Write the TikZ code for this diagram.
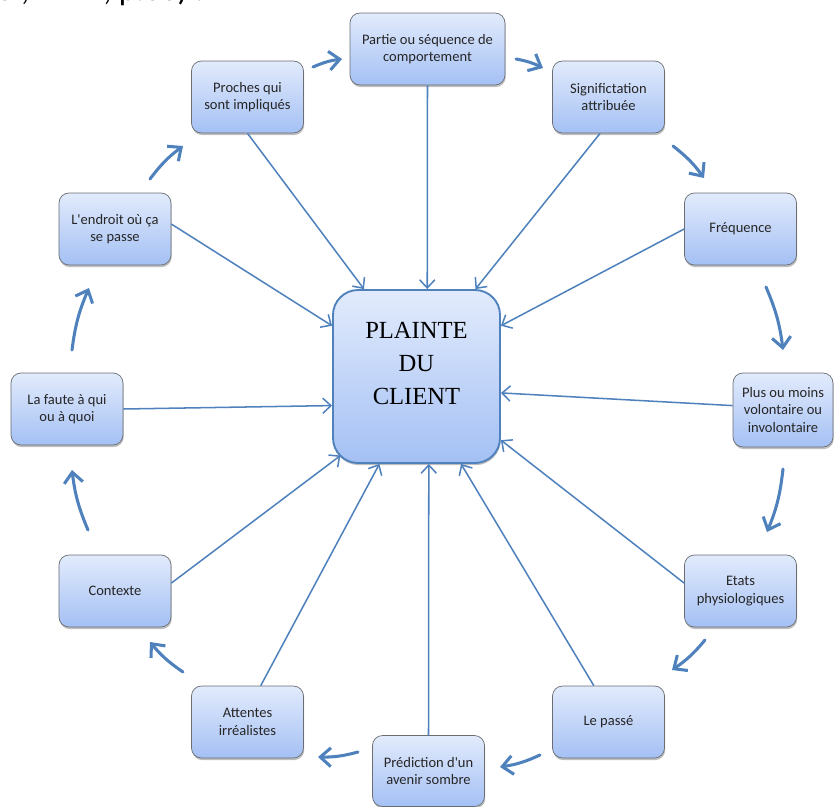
\documentclass[tikz,border=0pt]{standalone}
\usepackage{fontspec}
\setmainfont{Liberation Serif}
\newfontfamily\boxfont{Carlito}
\usetikzlibrary{arrows.meta, shadows}
\definecolor{arrowblue}{HTML}{4F81BD}
\definecolor{boxtop}{HTML}{E2EBFC}
\definecolor{boxbot}{HTML}{A4C0F4}
\definecolor{boxline}{HTML}{6A6E73}
\definecolor{textgrey}{HTML}{262626}

\begin{document}
\begin{tikzpicture}[
    x=0.03cm, y=-0.03cm,
    box/.style={rectangle, rounded corners=0.3cm, draw=boxline, line width=0.6pt,
        top color=boxtop, bottom color=boxbot, minimum width=3.36cm, minimum height=2.16cm,
        align=center, text=textgrey, inner sep=2pt,
        font=\boxfont\fontsize{12.4}{15}\selectfont,
        drop shadow={shadow xshift=0.6pt, shadow yshift=-1.8pt, opacity=0.25, fill=black}},
    core/.style={rectangle, rounded corners=0.75cm, draw=arrowblue, line width=1.6pt,
        top color=boxtop, bottom color=boxbot, minimum width=5.01cm, minimum height=5.19cm,
        align=center, font=\fontsize{21}{28}\selectfont, text depth=22pt,
        drop shadow={shadow xshift=0.6pt, shadow yshift=-1.8pt, opacity=0.25, fill=black}},
    ray/.style={draw=arrowblue, line width=1.3pt, -{Straight Barb[length=7pt, width=13pt]}},
    cyc/.style={draw=arrowblue, line width=2.6pt, line cap=round,
        -{Straight Barb[length=9pt, width=16pt]}},
]
\useasboundingbox (0,0) rectangle (834,807);

% ---------------- clipped source line at the very top
\node[anchor=base west, inner sep=0pt, font=\boxfont\fontsize{28}{32}\selectfont] (src) at (-4,0) {er, 1999, p.36) :};

% ---------------- centre
\node[core] (cl) at (416.5,376.5) {PLAINTE\\DU\\CLIENT};

% ---------------- boxes round the centre
\node[box, minimum width=4.65cm] (part) at (427.5,49) {Partie ou séquence de\\comportement};
\node[box] (proch) at (247.5,97) {Proches qui\\sont impliqués};
\node[box] (sig) at (608.5,97) {Significtation\\attribuée};
\node[box] (endr) at (115,229) {L'endroit où ça\\se passe};
\node[box] (freq) at (740.5,229) {Fréquence};
\node[box] (faute) at (67,409) {La faute à qui\\ou à quoi};
\node[box, minimum width=3.0cm, minimum height=2.22cm] (plus) at (783,410) {Plus ou moins\\volontaire ou\\involontaire};
\node[box] (ctx) at (115,591) {Contexte};
\node[box] (etats) at (740.5,591) {Etats\\physiologiques};
\node[box] (attentes) at (247.5,722) {Attentes\\irréalistes};
\node[box] (passe) at (608.5,722) {Le passé};
\node[box, minimum height=2.13cm] (pred) at (428.5,771) {Prédiction d'un\\avenir sombre};

% ---------------- everything points at the centre
\draw[ray] (part.south) -- (cl.83);
\draw[ray] (proch.south) -- (cl.121);
\draw[ray] (sig.257) -- (cl.56);
\draw[ray] (endr.5) -- (cl.149);
\draw[ray] (freq.west) -- (cl.31);
\draw[ray] (faute.east) -- (cl.199);
\draw[ray] (plus.175) -- (cl.349);
\draw[ray] (ctx.8) -- ([shift={(-76,79)}]cl.center);
\draw[ray] (etats.172) -- (cl.323);
\draw[ray] (attentes.70) -- (cl.247);
\draw[ray] (pred.north) -- (cl.278);
\draw[ray] (passe.112) -- (cl.297);

% ---------------- clockwise ring between the boxes
\foreach \xa/\ya/\xb/\yb in {313/67/342/59, 516/59/543/68, 673/146/704/178,
    766/287/783/350, 783/469/767/532, 705/640/672/670, 540/755/500/767,
    358/752/318/757, 183/672/150/642, 88/530/72/470, 72/350/89/288, 150/179/183/146}{
    \draw[cyc] (\xa,\ya) to[bend left=8] (\xb,\yb);
}
\end{tikzpicture}
\end{document}
